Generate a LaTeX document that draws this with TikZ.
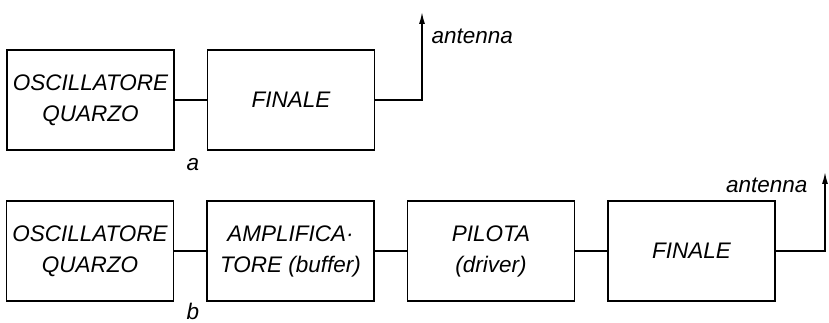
\documentclass[tikz,border=0pt]{standalone}
\usepackage{fontspec}
\setmainfont{Liberation Sans}
\usepackage{xcolor}
\usetikzlibrary{arrows.meta,positioning}

\begin{document}
\begin{tikzpicture}[x=1pt, y=-1pt, >={Latex[length=12pt,width=6pt]}, node distance=32pt,
    every node/.style={font=\fontsize{22.5}{31}\selectfont\itshape, align=center},
    block/.style={draw, line width=1.5pt, minimum width=167pt, minimum height=100pt, inner sep=0pt},
    wire/.style={line width=1.5pt}]
  \useasboundingbox (0,0) rectangle (829,323);
  % a: oscillatore + finale
  \node[block] (oscA) at (90.5,100) {OSCILLATORE\\QUARZO};
  \node[block, right=of oscA] (finA) {FINALE};
  \coordinate (antA) at (422,12);
  \draw[wire] (oscA) -- (finA);
  \draw[wire, ->] (finA.east) -| (antA);
  \node[anchor=west] (antLabelA) at (428,36) {antenna};
  \node (labelA) at (193,165) {a};
  % b: oscillatore + buffer + driver + finale
  \node[block] (oscB) at (90,251) {OSCILLATORE\\QUARZO};
  \node[block, right=of oscB] (ampB) {AMPLIFICA·\\TORE (buffer)};
  \node[block, right=of ampB] (pilB) {PILOTA\\(driver)};
  \node[block, right=of pilB] (finB) {FINALE};
  \coordinate (antB) at (825,172);
  \draw[wire] (oscB) -- (ampB);
  \draw[wire] (ampB) -- (pilB);
  \draw[wire] (pilB) -- (finB);
  \draw[wire, ->] (finB.east) -| (antB);
  \node[anchor=east] (antLabelB) at (811,185) {antenna};
  \node (labelB) at (193,311) {b};
\end{tikzpicture}
\end{document}
